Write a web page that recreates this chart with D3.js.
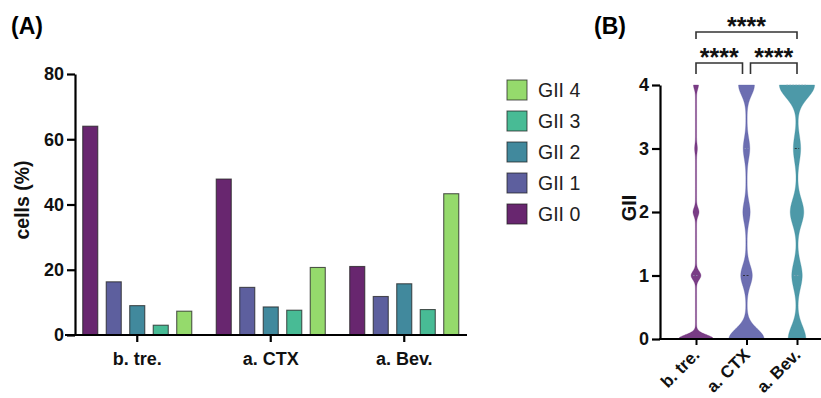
<!DOCTYPE html>
<html><head><meta charset="utf-8">
<script src="https://cdn.jsdelivr.net/npm/d3@7"></script>
<style>body{margin:0;background:#fff}svg{font-family:"Liberation Sans",Arial,sans-serif;display:block}</style>
</head><body><svg width="821" height="398"></svg>
<script>
// ---- data ----
const groups = ["b. tre.", "a. CTX", "a. Bev."];
const series = ["GII 0", "GII 1", "GII 2", "GII 3", "GII 4"];
const gii0 = [64, 47.8, 21];
const gii1 = [16.3, 14.6, 11.8];
const gii2 = [9, 8.6, 15.7];
const gii3 = [3, 7.6, 7.8];
const gii4 = [7.3, 20.7, 43.3];
const yTicksA = [0, 20, 40, 60, 80];
const yTicksB = [0, 1, 2, 3, 4];
const giiLevels = [0, 1, 2, 3, 4];
const medians = [0, 1, 3];
const quartile1 = [0, 0, 1];
const quartile3 = [1, 3, 4];
const bandwidths = [0.065, 0.16, 0.2];
const sigLabel = "****";
const comparisons = [["b. tre.", "a. CTX", 1], ["a. CTX", "a. Bev.", 1], ["b. tre.", "a. Bev.", 2]];

const seriesColors = ["#68266f", "#5d5f9e", "#41899d", "#48bb95", "#95da6c"];
const violinColors = ["#6a2878", "#5c5ea8", "#3a8e9f"];

const svg = d3.select("svg");
const values = [gii0, gii1, gii2, gii3, gii4];
const FONT = "Liberation Sans, Arial";

// ---- Panel A ----
svg.append("text").attr("x", 11).attr("y", 34).attr("font-size", 23).attr("font-weight", "bold").text("(A)");

const xA = d3.scaleBand(groups, [70.5, 471]);
const xInner = d3.scaleBand(series, [-58.75, 58.75]).paddingInner(0.36).paddingOuter(0.18);
const yA = d3.scaleLinear([0, 80], [335, 74]);
const colA = d3.scaleOrdinal(series, seriesColors);

const gA = svg.append("g");
groups.forEach((g, gi) => {
  series.forEach((s, si) => {
    const v = values[si][gi];
    gA.append("rect")
      .attr("x", xA(g) + xA.bandwidth() / 2 + xInner(s))
      .attr("y", yA(v))
      .attr("width", xInner.bandwidth())
      .attr("height", yA(0) - yA(v))
      .attr("fill", colA(s))
      .attr("stroke", "#222").attr("stroke-opacity", 0.75).attr("stroke-width", 1.1);
  });
});

const axA = svg.append("g").attr("transform", "translate(75,0)")
  .call(d3.axisLeft(yA).tickValues(yTicksA).tickSize(8).tickPadding(3).tickSizeOuter(0));
axA.select(".domain").attr("stroke-width", 2.2);
axA.selectAll(".tick line").attr("stroke-width", 2.2);
axA.selectAll("text").attr("font-size", 18).attr("font-weight", "bold").attr("font-family", FONT).attr("fill", "#111");

const axAx = svg.append("g").attr("transform", "translate(0,335)")
  .call(d3.axisBottom(xA).tickSize(7).tickPadding(10).tickSizeOuter(0));
axAx.select(".domain").attr("d", "M65,0H467").attr("stroke-width", 2.2);
axAx.selectAll(".tick line").attr("stroke-width", 2.2);
axAx.selectAll("text").attr("font-size", 18).attr("font-weight", "bold").attr("font-family", FONT)
  .attr("fill", "#111").attr("dy", null).attr("y", 30);

svg.append("text").attr("transform", "translate(29,200) rotate(-90)")
  .attr("text-anchor", "middle").attr("font-size", 19.5).attr("font-weight", "bold").attr("fill", "#111").text("cells (%)");

// legend
const leg = svg.append("g");
series.slice().reverse().forEach((s, i) => {
  const y = 90 + i * 31;
  leg.append("rect").attr("x", 507).attr("y", y - 10).attr("width", 20).attr("height", 20)
    .attr("fill", colA(s)).attr("stroke", "#222").attr("stroke-opacity", 0.75);
  leg.append("text").attr("x", 538).attr("y", y + 7).attr("font-size", 19.5).attr("fill", "#222").text(s);
});

// ---- Panel B ----
svg.append("text").attr("x", 594).attr("y", 34).attr("font-size", 23).attr("font-weight", "bold").text("(B)");

const xB = d3.scalePoint(groups, [696, 797]);
const yB = d3.scaleLinear([0, 4], [339, 85]);
const maxHW = 17;

const gB = svg.append("g");
groups.forEach((g, gi) => {
  const p = values.map(v => v[gi]);
  const h = bandwidths[gi];
  const ys = d3.range(0, 4.0001, 0.005);
  const dens = ys.map(y => d3.sum(giiLevels, (k, ki) => p[ki] * Math.exp(-((y - k) ** 2) / (2 * h * h))));
  const dmax = d3.max(dens);
  const pts = ys.map((y, i) => ({ y, w: maxHW * dens[i] / dmax + 0.6 }));
  const area = d3.area().y(d => yB(d.y)).x0(d => xB(g) - d.w).x1(d => xB(g) + d.w);
  gB.append("path").attr("d", area(pts)).attr("fill", violinColors[gi]).attr("fill-opacity", 0.9)
    .attr("stroke", violinColors[gi]).attr("stroke-opacity", 0.5).attr("stroke-width", 0.6);
  const wAt = y => pts[Math.round(y / 0.005)].w;
  [quartile1[gi], quartile3[gi]].forEach(q => {
    gB.append("line").attr("x1", xB(g) - wAt(q) * 0.6).attr("x2", xB(g) + wAt(q) * 0.6)
      .attr("y1", yB(q)).attr("y2", yB(q)).attr("stroke", "#9ab").attr("stroke-opacity", 0.6)
      .attr("stroke-dasharray", "1.5,1.5").attr("stroke-width", 1);
  });
  const m = medians[gi];
  gB.append("line").attr("x1", xB(g) - wAt(m) * 0.6).attr("x2", xB(g) + wAt(m) * 0.6)
    .attr("y1", yB(m)).attr("y2", yB(m)).attr("stroke", "#222").attr("stroke-opacity", 0.8)
    .attr("stroke-dasharray", "2,1.5").attr("stroke-width", 1);
});

const axB = svg.append("g").attr("transform", "translate(660,0)")
  .call(d3.axisLeft(yB).tickValues(yTicksB).tickFormat(d3.format("d")).tickSize(8).tickPadding(3).tickSizeOuter(0));
axB.select(".domain").attr("stroke-width", 2.2);
axB.selectAll(".tick line").attr("stroke-width", 2.2);
axB.selectAll("text").attr("font-size", 18).attr("font-weight", "bold").attr("font-family", FONT).attr("fill", "#111");

const axBx = svg.append("g").attr("transform", "translate(0,339)")
  .call(d3.axisBottom(xB).tickSize(6).tickSizeOuter(0));
axBx.select(".domain").attr("d", "M659,0H821").attr("stroke-width", 2.2);
axBx.selectAll(".tick line").attr("stroke-width", 2);
axBx.selectAll("text").attr("font-size", 17).attr("font-weight", "bold").attr("font-family", FONT).attr("fill", "#111")
  .attr("text-anchor", "end").attr("dy", null).attr("y", 0)
  .attr("transform", "translate(4,17) rotate(-45)");

svg.append("text").attr("transform", "translate(636,208) rotate(-90)")
  .attr("text-anchor", "middle").attr("font-size", 20).attr("font-weight", "bold").attr("fill", "#111").text("GII");

// significance brackets
const gS = svg.append("g");
comparisons.forEach(([a, b, lvl]) => {
  const yTop = lvl === 1 ? 63 : 32;
  const yLeg = lvl === 1 ? 74 : 39;
  const xa = xB(a) + (lvl === 1 && a === "a. CTX" ? 4 : 0);
  const xb = xB(b) - (lvl === 1 && b === "a. CTX" ? 4 : 0);
  gS.append("path").attr("d", `M${xa},${yLeg}V${yTop}H${xb}V${yLeg}`)
    .attr("fill", "none").attr("stroke", "#333").attr("stroke-width", 1.6);
  gS.append("text").attr("x", (xa + xb) / 2).attr("y", yTop + 3).attr("text-anchor", "middle")
    .attr("font-size", 25).attr("font-weight", "bold").attr("fill", "#111").text(sigLabel);
});
</script></body></html>
